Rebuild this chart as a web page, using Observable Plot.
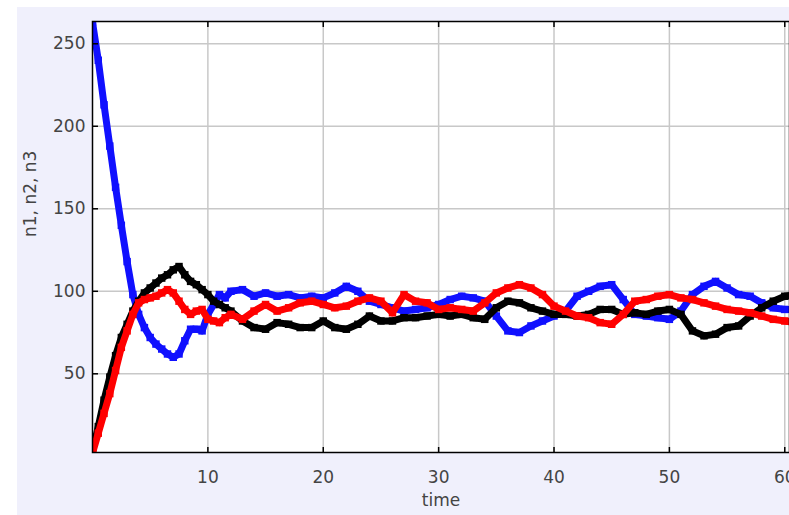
<!DOCTYPE html>
<html><head><meta charset="utf-8">
<script src="https://cdn.jsdelivr.net/npm/d3@7"></script>
<script src="https://cdn.jsdelivr.net/npm/@observablehq/plot@0.6"></script>
<style>
html,body{margin:0;padding:0;background:#fff;}
#wrap{position:relative;width:789px;height:515px;overflow:hidden;}
#bg{position:absolute;left:17px;top:7px;right:0;bottom:0;background:#f0f0fc;}
#chart{position:absolute;left:0;top:0;}
</style></head><body>
<div id="wrap"><div id="bg"></div><div id="chart"></div></div>
<script>
const time = [0,0.5,1,1.5,2,2.5,3,3.5,4,4.5,5,5.5,6,6.5,7,7.5,8,8.5,9,9.5,10,10.5,11,11.5,12,
  13,14,15,16,17,18,19,20,21,22,23,24,25,26,27,28,29,30,31,32,33,34,35,36,37,38,39,40,41,42,43,44,45,46,47,48,49,50,51,52,53,54,55,56,57,58,59,60,61];
const n1 = [263,240,213,188,163,140,118,98,86,78,72,68,65,62,60,62,70,77,77,76,86,92,98,96,100,
  101,97,99,97,98,96,97,96,99,103,100,94,92,90,88,89,90,92,95,97,96,94,85,76,75,79,82,85,88,97,100,103,104,95,86,85,84,83,88,98,103,106,102,98,97,93,90,89,89];
const n2 = [3,18,34,48,61,72,80,88,94,99,102,105,108,110,113,115,110,106,104,101,98,94,92,90,88,
  82,78,77,81,80,78,78,82,78,77,80,85,82,82,84,84,85,86,85,86,84,83,90,94,93,90,88,86,86,85,86,89,89,86,87,86,88,89,86,76,73,74,78,79,85,90,94,97,98];
const n3 = [2,14,26,38,52,66,76,86,93,95,96,97,99,101,99,94,89,86,88,89,83,82,81,84,86,
  83,88,92,88,90,93,94,92,90,91,94,96,94,87,98,94,93,89,90,89,88,93,99,102,104,102,98,91,88,85,84,81,80,86,94,95,97,98,96,95,93,91,89,88,87,85,83,82,81];
const seriesNames = ["n1","n2","n3"];
const seriesColors = ["#1010ff","#000000","#ff0000"];
const xTicks = [10,20,30,40,50,60];
const yTicks = [50,100,150,200,250];

const rows = [];
[n1, n2, n3].forEach((arr, i) => arr.forEach((v, j) => rows.push({time: time[j], value: v, series: seriesNames[i]})));

const seriesMarks = seriesNames.flatMap(name => {
  const d = rows.filter(r => r.series === name);
  return [
    Plot.line(d, {x: "time", y: "value", stroke: "series", strokeWidth: 7, clip: true}),
    Plot.dot(d, {x: "time", y: "value", fill: "series", symbol: "square", r: 4.2, clip: true})
  ];
});

const chart = Plot.plot({
  width: 789, height: 515,
  marginLeft: 92, marginRight: 0, marginTop: 21, marginBottom: 63,
  x: {domain: [0, 60.41]},
  y: {domain: [2.3, 263.5]},
  color: {domain: seriesNames, range: seriesColors},
  style: {background: "transparent", fontFamily: "DejaVu Sans", fontSize: "17px", color: "#444"},
  marks: [
    Plot.frame({fill: "white"}),
    Plot.gridX(xTicks, {stroke: "#c8c8c8", strokeOpacity: 1, strokeWidth: 1.5}),
    Plot.gridY(yTicks, {stroke: "#c8c8c8", strokeOpacity: 1, strokeWidth: 1.5}),
    ...seriesMarks,
    Plot.frame({stroke: "black", strokeWidth: 1.5}),
    Plot.axisX(xTicks, {anchor: "bottom", tickSize: 5, dy: -5, tickPadding: 18, label: null, stroke: "black", strokeWidth: 1.5}),
    Plot.axisX(xTicks, {anchor: "top", tickSize: 5, dy: 5, tickFormat: () => "", label: null, stroke: "black", strokeWidth: 1.5}),
    Plot.axisY(yTicks, {anchor: "left", tickSize: 6, dx: 6, tickPadding: 7, label: null, stroke: "black", strokeWidth: 1.5}),
    Plot.text(["time"], {frameAnchor: "bottom", dy: 53, fill: "#444", fontSize: 17}),
    Plot.text(["n1, n2, n3"], {frameAnchor: "left", dx: -62, rotate: -90, fill: "#444", fontSize: 17})
  ]
});
document.getElementById("chart").appendChild(chart);
</script>
</body></html>
